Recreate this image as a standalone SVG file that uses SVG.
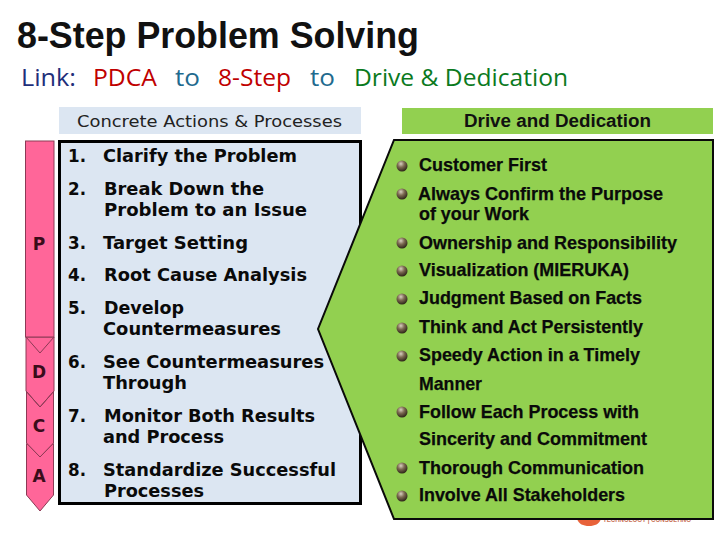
<svg xmlns="http://www.w3.org/2000/svg" width="720" height="540" viewBox="0 0 720 540">
<defs>
<radialGradient id="ball" cx="40%" cy="30%" r="70%"><stop offset="0" stop-color="#d8cfc0"/><stop offset="0.45" stop-color="#7d6a52"/><stop offset="1" stop-color="#2e2418"/></radialGradient>
</defs>
<style>
text{fill:#000}
.t{font-family:"Liberation Sans",Arial,sans-serif;font-weight:bold;font-size:36px;fill:#111}
.l{font-family:"Open Sans","Noto Sans",sans-serif;font-size:24px}
.v{font-family:"DejaVu Sans",Verdana,sans-serif;font-weight:bold;font-size:18px;fill:#0a0a0a}
.r{font-family:"Liberation Sans",Arial,sans-serif;font-weight:bold;font-size:18.5px;fill:#0a0a0a;stroke:#0a0a0a;stroke-width:.25px}
.p{fill:#ff6699;stroke:#8c3a55;stroke-width:1}
.pl{font-family:"DejaVu Sans",Verdana,sans-serif;font-weight:bold;font-size:17px;fill:#3a0c1a;text-anchor:middle}
.b{fill:url(#ball)}
</style>
<rect width="720" height="540" fill="#fff"/>
<g id="title">
<text class="t" x="17" y="48" textLength="402" lengthAdjust="spacingAndGlyphs">8-Step Problem Solving</text>
</g>
<g id="link">
<text class="l" x="21" y="86" style="fill:#1f2f7a" textLength="55" lengthAdjust="spacingAndGlyphs">Link:</text>
<text class="l" x="93" y="86" style="fill:#c00000" textLength="64" lengthAdjust="spacingAndGlyphs">PDCA</text>
<text class="l" x="175" y="86" style="fill:#1f6b8f" textLength="25" lengthAdjust="spacingAndGlyphs">to</text>
<text class="l" x="218" y="86" style="fill:#c00000" textLength="73" lengthAdjust="spacingAndGlyphs">8-Step</text>
<text class="l" x="310" y="86" style="fill:#1f6b8f" textLength="25" lengthAdjust="spacingAndGlyphs">to</text>
<text class="l" x="354" y="86" style="fill:#0b7a1e" textLength="214" lengthAdjust="spacingAndGlyphs">Drive &amp; Dedication</text>
</g>
<g id="logo">
<path d="M577 519h24c-2 5-6 7-12 7s-10-2-12-7z" fill="#e8623a"/>
<text x="603" y="522" font-family="Liberation Sans,sans-serif" font-size="7" font-weight="bold" style="fill:#c9745a" textLength="88" lengthAdjust="spacingAndGlyphs">TECHNOLOGY | CONSULTING</text>
</g>
<g id="header-actions">
<rect x="59" y="107" width="302" height="27" fill="#dce6f2"/>
<text x="77" y="127" font-family="DejaVu Sans,Verdana,sans-serif" font-size="16" style="fill:#222" textLength="265" lengthAdjust="spacingAndGlyphs">Concrete Actions &amp; Processes</text>
</g>
<g id="header-drive">
<rect x="402" y="108" width="311" height="26" fill="#92d050"/>
<text x="464" y="127" font-family="Liberation Sans,Arial,sans-serif" font-weight="bold" font-size="17.500" style="fill:#111" textLength="187" lengthAdjust="spacingAndGlyphs">Drive and Dedication</text>
</g>
<g id="pdca">
<polygon id="stage-a" class="p" points="26.500,444 53.500,444 53.500,495 40,511 26.500,495"/>
<polygon id="stage-c" class="p" points="26.500,391 53.500,391 53.500,443 40,457 26.500,443"/>
<polygon id="stage-d" class="p" points="26,337 54,337 54,391 40,407 26,391"/>
<rect id="stage-p" class="p" x="25.500" y="141" width="28.500" height="196"/>
<polygon class="p" points="26.500,443 53.500,443 40,457" style="stroke:none"/>
<polyline class="p" points="26.500,443 40,457 53.500,443" style="fill:none"/>
<polyline class="p" points="26,391 40,407 54,391" style="fill:none"/>
<polyline class="p" points="26,337 40,353 54,337" style="fill:none"/>
<text class="pl" x="39" y="250">P</text>
<text class="pl" x="39" y="378">D</text>
<text class="pl" x="39" y="432">C</text>
<text class="pl" x="39" y="482">A</text>
</g>
<g id="actions">
<rect x="59.500" y="141.500" width="301" height="362" fill="#dce6f2" stroke="#000" stroke-width="3"/>
</g>
<g id="drive">
<polygon points="394,140 713,140 713,519 394,519 318,329" fill="#92d050" stroke="#0a0a0a" stroke-width="2"/>
</g>
<g id="steps">
<text class="v" x="68" y="162" textLength="18" lengthAdjust="spacingAndGlyphs">1.</text><text class="v" x="103" y="162" textLength="194" lengthAdjust="spacingAndGlyphs">Clarify the Problem</text>
<text class="v" x="68" y="195" textLength="18" lengthAdjust="spacingAndGlyphs">2.</text><text class="v" x="104" y="195" textLength="160" lengthAdjust="spacingAndGlyphs">Break Down the</text>
<text class="v" x="104" y="216" textLength="203" lengthAdjust="spacingAndGlyphs">Problem to an Issue</text>
<text class="v" x="68" y="249" textLength="18" lengthAdjust="spacingAndGlyphs">3.</text><text class="v" x="103" y="249" textLength="145" lengthAdjust="spacingAndGlyphs">Target Setting</text>
<text class="v" x="68" y="281" textLength="18" lengthAdjust="spacingAndGlyphs">4.</text><text class="v" x="104" y="281" textLength="203" lengthAdjust="spacingAndGlyphs">Root Cause Analysis</text>
<text class="v" x="68" y="314" textLength="18" lengthAdjust="spacingAndGlyphs">5.</text><text class="v" x="104" y="314" textLength="80" lengthAdjust="spacingAndGlyphs">Develop</text>
<text class="v" x="103" y="335" textLength="178" lengthAdjust="spacingAndGlyphs">Countermeasures</text>
<text class="v" x="68" y="368" textLength="18" lengthAdjust="spacingAndGlyphs">6.</text><text class="v" x="103" y="368" textLength="221" lengthAdjust="spacingAndGlyphs">See Countermeasures</text>
<text class="v" x="103" y="389" textLength="84" lengthAdjust="spacingAndGlyphs">Through</text>
<text class="v" x="68" y="422" textLength="18" lengthAdjust="spacingAndGlyphs">7.</text><text class="v" x="104" y="422" textLength="211" lengthAdjust="spacingAndGlyphs">Monitor Both Results</text>
<text class="v" x="103" y="443" textLength="121" lengthAdjust="spacingAndGlyphs">and Process</text>
<text class="v" x="68" y="476" textLength="18" lengthAdjust="spacingAndGlyphs">8.</text><text class="v" x="103" y="476" textLength="233" lengthAdjust="spacingAndGlyphs">Standardize Successful</text>
<text class="v" x="104" y="497" textLength="100" lengthAdjust="spacingAndGlyphs">Processes</text>
</g>
<g id="values">
<circle class="b" cx="402" cy="166" r="5.500"/><text class="r" x="419" y="171" textLength="128" lengthAdjust="spacingAndGlyphs">Customer First</text>
<circle class="b" cx="402" cy="194" r="5.500"/><text class="r" x="418" y="200" textLength="245" lengthAdjust="spacingAndGlyphs">Always Confirm the Purpose</text>
<text class="r" x="419" y="220" textLength="110" lengthAdjust="spacingAndGlyphs">of your Work</text>
<circle class="b" cx="402" cy="243" r="5.500"/><text class="r" x="419" y="249" textLength="258" lengthAdjust="spacingAndGlyphs">Ownership and Responsibility</text>
<circle class="b" cx="402" cy="271" r="5.500"/><text class="r" x="419" y="276" textLength="210" lengthAdjust="spacingAndGlyphs">Visualization (MIERUKA)</text>
<circle class="b" cx="402" cy="299" r="5.500"/><text class="r" x="419" y="304" textLength="223" lengthAdjust="spacingAndGlyphs">Judgment Based on Facts</text>
<circle class="b" cx="402" cy="328" r="5.500"/><text class="r" x="419" y="333" textLength="224" lengthAdjust="spacingAndGlyphs">Think and Act Persistently</text>
<circle class="b" cx="402" cy="356" r="5.500"/><text class="r" x="419" y="361" textLength="221" lengthAdjust="spacingAndGlyphs">Speedy Action in a Timely</text>
<text class="r" x="419" y="390" textLength="63" lengthAdjust="spacingAndGlyphs">Manner</text>
<circle class="b" cx="402" cy="412" r="5.500"/><text class="r" x="419" y="418" textLength="220" lengthAdjust="spacingAndGlyphs">Follow Each Process with</text>
<text class="r" x="419" y="445" textLength="228" lengthAdjust="spacingAndGlyphs">Sincerity and Commitment</text>
<circle class="b" cx="402" cy="468" r="5.500"/><text class="r" x="419" y="474" textLength="225" lengthAdjust="spacingAndGlyphs">Thorough Communication</text>
<circle class="b" cx="402" cy="496" r="5.500"/><text class="r" x="419" y="501" textLength="206" lengthAdjust="spacingAndGlyphs">Involve All Stakeholders</text>
</g>
</svg>
